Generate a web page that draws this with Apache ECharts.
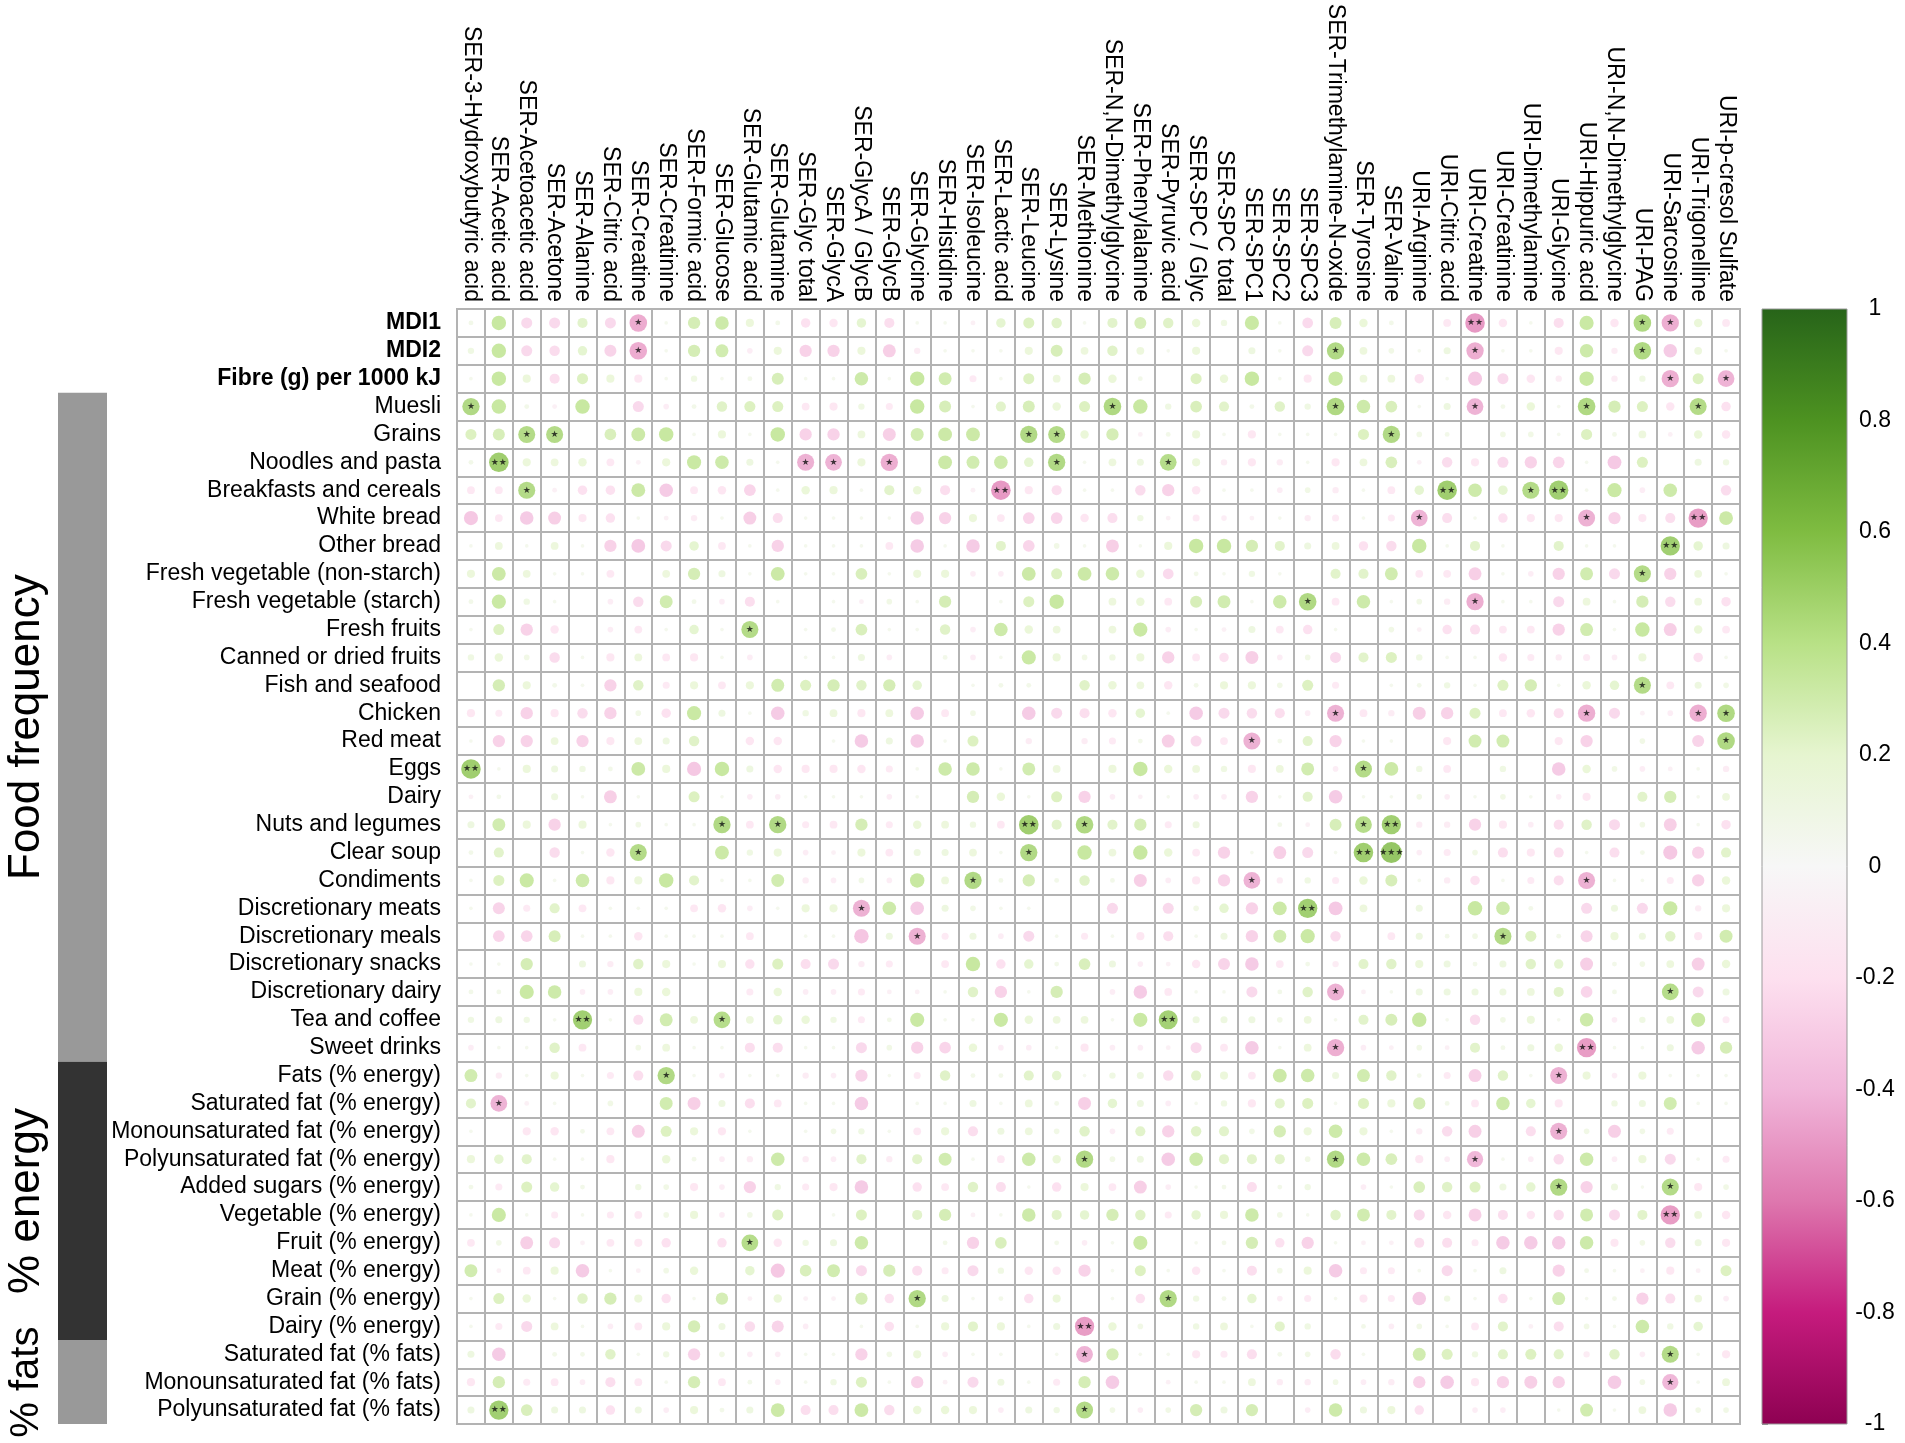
<!DOCTYPE html>
<html>
<head>
<meta charset="utf-8">
<script src="https://cdn.jsdelivr.net/npm/echarts@6/dist/echarts.min.js"></script>
<style>
html, body { margin: 0; padding: 0; background: #fff; }
#main { width: 1905px; height: 1443px; }
</style>
</head>
<body>
<div id="main"></div>
<script>
// columns: serum / urine metabolites
var metabolites = [
    'SER-3-Hydroxybutyric acid', 'SER-Acetic acid', 'SER-Acetoacetic acid', 'SER-Acetone', 'SER-Alanine',
    'SER-Citric acid', 'SER-Creatine', 'SER-Creatinine', 'SER-Formic acid', 'SER-Glucose',
    'SER-Glutamic acid', 'SER-Glutamine', 'SER-Glyc total', 'SER-GlycA', 'SER-GlycA / GlycB',
    'SER-GlycB', 'SER-Glycine', 'SER-Histidine', 'SER-Isoleucine', 'SER-Lactic acid',
    'SER-Leucine', 'SER-Lysine', 'SER-Methionine', 'SER-N,N-Dimethylglycine', 'SER-Phenylalanine',
    'SER-Pyruvic acid', 'SER-SPC / Glyc', 'SER-SPC total', 'SER-SPC1', 'SER-SPC2',
    'SER-SPC3', 'SER-Trimethylamine-N-oxide', 'SER-Tyrosine', 'SER-Valine', 'URI-Arginine',
    'URI-Citric acid', 'URI-Creatine', 'URI-Creatinine', 'URI-Dimethylamine', 'URI-Glycine',
    'URI-Hippuric acid', 'URI-N,N-Dimethylglycine', 'URI-PAG', 'URI-Sarcosine', 'URI-Trigonelline',
    'URI-p-cresol Sulfate'
];

// rows: diet indices, food frequency, % energy, % fats
var foodItems = [
    'MDI1', 'MDI2', 'Fibre (g) per 1000 kJ', 'Muesli', 'Grains', 'Noodles and pasta',
    'Breakfasts and cereals', 'White bread', 'Other bread', 'Fresh vegetable (non-starch)',
    'Fresh vegetable (starch)', 'Fresh fruits', 'Canned or dried fruits', 'Fish and seafood',
    'Chicken', 'Red meat', 'Eggs', 'Dairy', 'Nuts and legumes', 'Clear soup', 'Condiments',
    'Discretionary meats', 'Discretionary meals', 'Discretionary snacks', 'Discretionary dairy',
    'Tea and coffee', 'Sweet drinks', 'Fats (% energy)', 'Saturated fat (% energy)',
    'Monounsaturated fat (% energy)', 'Polyunsaturated fat (% energy)', 'Added sugars (% energy)',
    'Vegetable (% energy)', 'Fruit (% energy)', 'Meat (% energy)', 'Grain (% energy)',
    'Dairy (% energy)', 'Saturated fat (% fats)', 'Monounsaturated fat (% fats)',
    'Polyunsaturated fat (% fats)'
];
var boldRows = ['MDI1', 'MDI2', 'Fibre (g) per 1000 kJ'];

// correlation values, one row per food item, one entry per metabolite
var corrRows = [
    [0.1, 0.39, -0.28, -0.28, 0.25, -0.28, -0.5, 0.07, 0.32, 0.36,  0.19, 0.1, -0.23, -0.2, 0.23, -0.25, 0.07, 0.07, -0.1, 0.23,  0.28, 0.26, 0.07, 0.25, 0.31, 0.26, 0.2, 0.14, 0.38, 0.07,  -0.27, 0.31, 0.2, 0.1, 0, -0.18, -0.57, -0.2, 0.07, -0.25,  0.38, -0.2, 0.5, -0.49, 0.2, -0.18],
    [0.14, 0.39, -0.28, -0.26, 0.23, -0.31, -0.5, 0.07, 0.32, 0.34,  -0.12, 0.19, -0.32, -0.32, 0.19, -0.34, -0.14, 0.07, 0.07, 0.07,  0.19, 0.31, 0.18, 0.26, 0.18, 0.07, 0.19, 0, 0.16, 0.07,  -0.28, 0.49, 0.18, 0.12, 0.07, 0.16, -0.49, 0.07, 0.07, -0.19,  0.36, -0.14, 0.5, -0.36, 0.18, 0.07],
    [0.07, 0.39, 0.19, -0.25, 0.28, 0.19, -0.19, 0.07, 0.14, 0.07,  0.1, 0.31, 0.07, 0.07, 0.36, 0.07, 0.39, 0.34, -0.16, 0.07,  0.28, 0.18, 0.32, 0.2, 0.1, 0, 0.28, 0.2, 0.39, 0.07,  -0.19, 0.39, 0.18, 0.18, -0.23, 0.07, -0.38, -0.28, -0.2, -0.14,  0.39, -0.14, 0.14, -0.49, 0.28, -0.47],
    [0.49, 0.39, 0.1, -0.1, 0.39, 0, -0.28, -0.12, 0.1, 0.26,  0.28, 0.28, -0.18, -0.19, 0.14, -0.16, 0.39, 0.31, 0.07, 0.25,  0.31, 0.2, 0.28, 0.5, 0.39, 0.14, 0.3, 0.25, 0.1, 0.26,  0.14, 0.5, 0.36, 0.3, 0.07, 0.16, -0.47, 0.1, 0.2, 0.07,  0.5, 0.32, 0.28, -0.2, 0.48, -0.23],
    [0.28, 0.31, 0.48, 0.48, 0, 0.3, 0.37, 0.39, 0.07, 0.19,  0.07, 0.39, -0.32, -0.32, 0.18, -0.34, 0.34, 0.37, 0.37, 0,  0.49, 0.48, 0.2, 0.32, -0.1, 0.1, 0.19, 0.07, -0.19, 0.07,  0.07, 0.07, 0.28, 0.49, 0.12, 0.1, 0, 0.12, 0.12, 0.07,  0.28, 0.1, 0.18, -0.1, 0.2, -0.2],
    [0.1, 0.57, 0.19, 0.18, 0.2, -0.18, -0.1, 0.19, 0.38, 0.36,  0.16, 0.07, -0.48, -0.47, 0.19, -0.49, 0, 0.37, 0.34, 0.36,  0.23, 0.49, 0.07, 0.18, 0.16, 0.47, 0.19, -0.14, -0.19, -0.14,  0.07, -0.19, 0.18, 0.3, -0.1, -0.26, -0.19, -0.28, -0.32, -0.3,  0.07, -0.37, 0.28, 0, 0.16, 0.14],
    [-0.18, -0.18, 0.48, -0.1, -0.23, -0.23, 0.37, -0.36, -0.18, -0.2,  -0.3, 0.07, 0.2, 0.19, 0.07, 0.25, 0.2, -0.25, -0.1, -0.57,  -0.19, -0.25, 0.07, 0.07, -0.26, -0.32, -0.2, 0.07, 0.07, -0.12,  0.12, -0.14, 0.07, -0.18, 0.23, 0.57, 0.36, 0.23, 0.48, 0.56,  0.07, 0.38, -0.12, 0.36, 0, -0.26],
    [-0.38, -0.18, -0.36, -0.34, -0.19, -0.23, 0.07, -0.1, -0.14, 0.07,  -0.34, -0.25, 0.07, 0.07, 0.07, 0.07, -0.36, -0.32, 0.19, -0.18,  -0.3, -0.3, -0.2, -0.25, 0.14, -0.1, -0.16, -0.12, -0.1, 0.07,  -0.14, -0.16, 0.07, -0.16, -0.47, -0.25, 0.07, -0.23, -0.19, -0.19,  -0.48, -0.32, -0.19, -0.25, -0.56, 0.37],
    [0.07, 0.18, 0.07, 0.18, 0.07, -0.32, -0.37, -0.28, 0.23, -0.18,  0.07, -0.32, 0.07, 0.07, 0.07, -0.18, -0.36, 0.07, -0.36, 0.25,  -0.3, 0.12, 0.07, -0.34, 0.07, 0.19, 0.39, 0.39, 0.32, 0.25,  0.16, 0.18, -0.23, -0.26, 0.39, 0.07, 0.25, 0.07, 0, 0.25,  0.07, 0.07, 0, 0.56, 0.23, 0.16],
    [0.19, 0.37, 0.18, 0.07, 0.07, -0.18, 0, 0.18, 0.32, 0.16,  0.07, 0.37, 0.07, 0.07, 0.3, 0.07, 0.19, 0.19, -0.12, -0.12,  0.37, 0.28, 0.37, 0.36, 0.2, -0.27, 0.1, 0.07, 0.14, 0.07,  0, 0.25, 0.25, 0.34, -0.18, -0.18, -0.34, 0.07, -0.12, -0.32,  0.34, -0.28, 0.48, -0.32, 0.18, 0.07],
    [0.1, 0.38, 0.14, 0.07, 0, -0.12, -0.26, 0.34, 0.1, -0.12,  -0.25, 0.07, 0, 0.07, -0.1, 0.12, 0.07, 0.32, 0, 0.07,  0.28, 0.39, 0, 0.18, 0.2, -0.18, 0.31, 0.34, 0.07, 0.36,  0.5, -0.18, 0.36, 0.07, 0.12, -0.14, -0.49, 0.07, 0.07, -0.28,  0.18, 0.07, 0.32, -0.26, 0.18, -0.23],
    [0.07, 0.28, -0.32, -0.2, 0, -0.12, -0.18, 0.07, 0.23, 0.07,  0.48, 0, 0.07, 0.1, 0.3, 0.07, 0.07, 0.26, -0.12, 0.36,  0.2, 0.18, 0, 0.18, 0.38, -0.12, 0.07, -0.1, 0.16, -0.18,  -0.23, 0.07, 0, 0.12, -0.1, -0.23, -0.25, -0.18, -0.18, -0.32,  0.34, 0.07, 0.39, -0.34, 0.2, -0.18],
    [0.14, 0.2, 0.12, -0.26, 0.07, -0.19, 0.18, -0.18, -0.19, 0.07,  -0.12, 0, 0.07, 0.07, 0.16, -0.12, 0, 0.1, -0.12, 0.07,  0.38, 0.19, 0.12, 0.14, 0.19, -0.32, -0.18, -0.23, -0.34, -0.12,  0.12, -0.28, 0.25, 0.28, 0.14, 0.07, 0.07, -0.2, -0.16, -0.14,  -0.16, -0.12, 0.19, 0, -0.23, 0.07],
    [0, 0.32, 0.19, 0.1, 0.07, -0.32, 0.26, -0.16, 0.19, -0.18,  0.19, 0.34, 0.28, 0.32, 0.26, 0.32, 0.23, 0, 0.07, 0.1,  0.1, 0, 0.26, 0.2, 0.18, -0.2, 0.1, 0.19, 0.19, 0.12,  0.28, -0.16, 0, 0.07, 0.1, 0.14, 0.07, 0.28, 0.32, 0.07,  0.2, 0.23, 0.48, -0.18, 0.16, 0.12],
    [-0.19, -0.16, -0.32, -0.19, -0.26, -0.32, 0.12, -0.23, 0.38, 0.16,  0.07, -0.36, 0.14, 0.18, -0.19, 0.18, -0.36, -0.18, 0.12, 0,  -0.36, -0.28, -0.25, -0.2, 0.23, 0.07, -0.36, -0.28, -0.26, -0.25,  -0.12, -0.48, -0.18, -0.14, -0.34, -0.32, 0.28, -0.18, -0.2, -0.25,  -0.49, -0.28, -0.1, -0.12, -0.49, 0.5],
    [0.07, -0.32, -0.32, 0.18, -0.32, -0.19, 0.18, 0.16, 0.26, 0,  -0.2, -0.2, 0, 0.07, -0.36, 0.16, -0.36, 0.07, 0.28, 0,  -0.14, 0, -0.14, -0.16, 0.1, -0.34, -0.28, -0.18, -0.48, 0.1,  0.25, -0.32, 0.07, 0.07, 0, -0.19, 0.34, 0.34, 0, -0.19,  -0.32, 0, 0.12, 0, -0.31, 0.5],
    [0.57, 0.07, 0.19, 0.16, 0.14, 0.1, 0.37, 0.19, -0.38, 0.39,  0.16, -0.2, -0.19, -0.19, -0.2, -0.16, 0.07, 0.36, 0.36, 0.07,  0.34, 0.18, 0, 0.19, 0.39, 0.2, 0.18, 0.14, -0.19, 0.18,  0.34, -0.12, 0.48, 0.37, 0.14, -0.18, 0, 0.14, 0, -0.36,  0.2, 0.12, -0.12, -0.1, 0.07, -0.14],
    [-0.1, 0.1, 0, 0.16, 0.07, -0.34, 0.07, 0, 0.28, 0.07,  -0.12, -0.12, 0.07, 0.07, 0.07, -0.12, 0.07, 0, 0.32, 0.2,  0.07, 0.28, -0.32, -0.12, -0.1, 0.07, -0.12, -0.12, -0.32, 0.07,  0.25, -0.36, 0.07, 0.07, 0.12, -0.12, 0.07, 0.12, 0.07, -0.12,  -0.19, 0, 0.25, 0.32, 0.07, 0.18],
    [0.16, 0.34, 0.19, -0.32, 0.19, 0.07, 0.12, 0.07, 0.07, 0.49,  -0.18, 0.49, -0.16, -0.18, 0.32, -0.16, 0.2, 0.18, 0.14, -0.18,  0.57, 0.25, 0.5, 0.25, 0.32, -0.16, 0.16, 0, 0, 0.1,  -0.1, 0.31, 0.47, 0.56, -0.14, -0.14, -0.32, -0.19, -0.12, -0.25,  0.26, -0.28, 0.12, -0.34, 0.07, -0.23],
    [0.1, 0.25, 0, -0.26, 0.07, -0.2, 0.48, 0, 0, 0.37,  0.14, 0.19, -0.12, -0.1, 0.19, -0.18, 0.16, 0.16, 0.18, 0.07,  0.49, 0, 0.39, 0.18, 0.39, 0.2, -0.18, -0.32, 0.07, -0.34,  -0.28, 0.07, 0.57, 0.62, -0.12, -0.16, 0.12, -0.25, -0.19, -0.25,  0.07, -0.25, 0.1, -0.38, -0.32, 0.25],
    [0.07, 0.28, 0.38, 0.07, 0.36, -0.19, 0.19, 0.39, 0.25, 0.07,  0.07, 0.34, -0.14, -0.12, 0.12, -0.12, 0.39, 0.18, 0.49, 0.1,  0.32, 0.1, 0.26, 0.1, -0.34, -0.12, -0.19, -0.32, -0.47, -0.14,  0.14, -0.16, 0.2, 0.31, 0.07, -0.14, -0.23, 0.07, -0.16, -0.25,  -0.48, 0.07, 0.07, -0.16, -0.32, 0.2],
    [0.07, -0.31, -0.16, 0.25, -0.18, 0.07, 0.07, 0.07, -0.18, -0.2,  -0.12, 0.07, 0.19, 0.19, -0.48, 0.36, -0.36, 0.16, 0.12, 0.07,  0.07, 0, 0, -0.28, 0, -0.28, 0.12, 0.23, -0.32, 0.37,  0.56, -0.37, 0.18, 0, 0.16, 0, 0.39, 0.36, 0.1, 0,  -0.28, 0.16, -0.28, 0.38, -0.14, 0.19],
    [0, -0.3, -0.3, 0.31, 0.07, 0.07, -0.2, 0.07, 0.07, 0.07,  -0.18, 0, 0.07, 0.07, -0.39, 0.16, -0.48, -0.16, 0.16, -0.12,  -0.28, 0.07, -0.16, 0.07, -0.19, -0.25, 0.07, 0.16, -0.32, 0.34,  0.38, -0.26, 0, -0.18, 0.16, 0.1, 0.12, 0.48, 0.28, 0.1,  -0.31, 0.19, 0.16, 0.26, -0.19, 0.34],
    [0.07, 0.07, 0.32, 0, 0.16, -0.14, 0.26, 0.19, 0.07, 0.19,  -0.23, 0.28, -0.25, -0.28, -0.14, -0.16, 0, -0.18, 0.39, -0.23,  0.23, 0.1, 0.3, 0.16, -0.12, -0.1, -0.2, -0.31, -0.36, -0.18,  0.1, -0.14, 0.25, 0.26, 0.19, 0.16, 0.1, 0.16, 0.26, 0.23,  -0.34, 0.1, 0.12, 0.18, -0.34, 0.2],
    [0.1, 0.1, 0.38, 0.36, -0.12, -0.12, 0.19, 0.2, 0, 0,  -0.16, 0.2, -0.12, -0.12, -0.16, -0.1, -0.1, 0.07, 0.26, -0.32,  0.07, 0.32, 0, -0.12, -0.36, -0.18, 0.07, 0.07, -0.28, 0.1,  0.26, -0.48, -0.1, 0.07, 0.16, 0.16, 0.16, 0.16, 0.18, 0.25,  -0.3, 0.1, 0, 0.47, -0.28, 0.16],
    [0.14, 0.16, 0.14, 0.07, 0.56, 0.07, -0.25, 0.34, 0.18, 0.47,  0.18, 0.23, 0.2, 0.14, -0.16, 0.1, 0.38, 0.07, 0.07, 0.38,  0.2, 0.18, 0.18, 0.07, 0.38, 0.55, 0.16, 0.16, 0.16, 0.12,  0.18, 0.07, 0.25, 0.31, 0.39, 0.07, -0.26, 0.12, 0.19, 0.07,  0.36, -0.12, 0.14, 0.18, 0.38, -0.16],
    [-0.12, 0.07, 0.07, 0.26, -0.18, 0, 0.12, 0.18, 0.07, 0.07,  -0.25, -0.25, 0.07, 0.07, -0.28, 0.12, -0.32, -0.3, 0.2, -0.12,  -0.12, 0.07, -0.19, -0.12, -0.12, -0.1, -0.28, -0.18, -0.36, 0.07,  0.18, -0.49, -0.12, -0.1, 0.12, -0.1, 0.25, 0.1, 0.16, 0.2,  -0.56, 0.07, 0.07, 0.16, -0.36, 0.32],
    [0.34, -0.14, 0.07, 0.19, 0.07, -0.16, -0.25, 0.49, 0.07, -0.12,  0.07, 0.07, -0.14, -0.12, -0.32, 0.07, -0.16, 0.26, 0.1, 0.1,  0.25, 0.23, 0.07, 0.14, 0.16, -0.26, 0.25, 0.19, -0.18, 0.37,  0.36, 0.16, 0.34, 0.26, 0.1, -0.16, -0.34, 0.26, 0.07, -0.48,  0.19, -0.12, 0.19, 0.07, 0.07, 0.07],
    [0.25, -0.47, -0.1, 0.07, 0, 0.12, 0, 0.34, -0.34, 0.16,  -0.25, -0.18, 0.07, 0.07, -0.36, 0, 0.07, 0.07, 0.16, 0.07,  0.18, 0.1, -0.34, 0.23, 0.16, -0.12, 0.07, 0.14, -0.19, 0.25,  0.28, 0.07, 0.28, 0.19, 0.32, 0.1, -0.18, 0.36, 0.23, -0.19,  0, 0.14, 0.16, 0.34, 0.07, 0.07],
    [0.07, 0, -0.19, -0.2, 0.1, -0.18, -0.34, 0.28, 0.19, -0.19,  0.07, 0, 0.07, 0.12, 0.14, 0.07, -0.18, 0.19, -0.25, 0.16,  0.18, 0.12, 0.26, -0.12, 0.25, -0.32, 0.26, 0.25, 0.12, 0.32,  0.19, 0.36, 0.19, 0.07, -0.14, -0.26, -0.34, 0, -0.25, -0.48,  0.12, -0.34, 0.12, -0.16, 0, 0],
    [0.19, 0.23, 0.25, 0.07, 0.07, -0.19, 0, 0.2, 0.1, -0.12,  -0.14, 0.36, -0.14, -0.12, 0.25, -0.14, 0.25, 0.34, 0.07, -0.18,  0.36, 0.2, 0.49, 0.12, 0.16, -0.36, 0.36, 0.25, 0.25, 0.25,  0.12, 0.49, 0.36, 0.3, -0.19, -0.12, -0.45, 0.07, -0.12, -0.26,  0.36, -0.12, 0.19, -0.28, 0.07, -0.16],
    [0.1, -0.16, 0.28, 0.23, 0.1, 0, 0.14, 0.12, -0.19, -0.12,  -0.32, 0.14, -0.16, -0.19, -0.36, 0, -0.23, -0.18, 0.26, -0.25,  0.07, -0.23, 0.19, -0.18, -0.34, -0.12, 0.07, 0.1, -0.25, 0.1,  0.14, 0, -0.12, 0.07, 0.3, 0.26, 0.28, 0.16, 0.23, 0.49,  -0.32, 0.16, 0.07, 0.48, -0.19, 0.12],
    [0.07, 0.38, 0.07, -0.16, 0.07, -0.16, -0.18, 0.12, 0.19, -0.12,  0.12, 0.28, 0, 0.07, 0.28, 0, 0.25, 0.32, -0.1, 0.07,  0.36, 0.25, 0.23, 0.32, 0.26, -0.16, 0.23, 0.19, 0.36, 0.12,  0.07, 0.26, 0.34, 0.25, -0.28, -0.2, -0.34, -0.25, -0.2, -0.26,  0.34, -0.28, 0.25, -0.56, 0.18, -0.2],
    [-0.18, 0.12, -0.34, -0.28, -0.1, -0.18, -0.19, -0.23, 0, -0.23,  0.47, -0.2, 0.14, 0.16, 0.36, 0, 0, 0.1, -0.32, 0.3,  0, 0.1, -0.12, 0.07, 0.38, 0, 0.07, 0.1, 0.32, -0.23,  -0.32, 0.07, -0.1, -0.1, -0.25, -0.25, -0.16, -0.36, -0.36, -0.36,  0.36, -0.19, 0.12, -0.26, 0.16, -0.19],
    [0.34, -0.1, -0.18, 0.19, -0.36, 0.07, -0.1, 0.12, 0.2, 0,  0.23, -0.38, 0.3, 0.34, -0.28, 0.32, -0.25, -0.16, -0.28, 0.14,  -0.2, -0.2, -0.32, 0.07, 0.28, 0.07, -0.2, 0.07, -0.25, 0.12,  0.19, -0.36, -0.16, -0.16, 0.07, -0.28, 0.07, 0.16, 0, -0.32,  0.1, 0.07, -0.1, -0.19, -0.1, 0.28],
    [0.07, 0.28, 0.2, 0.07, 0.26, 0.32, 0.19, -0.23, 0.07, 0.32,  -0.1, 0.2, -0.1, -0.1, 0.32, -0.23, 0.49, 0.16, 0.07, 0.1,  -0.23, 0.19, 0, 0.07, -0.23, 0.49, 0.14, 0.1, 0.23, -0.12,  -0.16, 0.07, -0.19, -0.16, -0.36, 0.14, 0.07, -0.23, 0.07, 0.34,  0.07, 0.1, -0.32, -0.25, 0.18, -0.12],
    [0.07, -0.16, -0.28, 0.18, 0.07, -0.12, -0.18, 0.19, 0.32, 0.16,  -0.26, -0.31, -0.12, 0, 0.07, -0.23, 0.07, 0.19, 0.25, 0.19,  0.07, 0.16, -0.56, 0.2, 0.12, 0, 0.14, 0.18, 0.07, 0.25,  0.14, 0, 0.1, -0.12, 0.12, 0.07, -0.18, 0.25, -0.1, -0.25,  0.12, 0.07, 0.36, 0.14, 0.23, 0],
    [0.16, -0.36, 0, 0.1, 0.1, 0.26, 0.07, 0.14, -0.32, 0.12,  -0.12, -0.12, 0.07, 0.07, -0.32, 0.12, 0.19, -0.12, 0.07, 0.07,  0, 0.07, -0.47, 0.32, 0.07, 0.07, -0.19, -0.16, -0.25, 0.1,  0.12, -0.26, 0.07, 0, 0.34, 0.28, 0.14, 0.25, 0.28, 0.25,  -0.14, 0.26, -0.12, 0.48, 0.07, -0.19],
    [-0.19, 0.32, -0.16, -0.18, -0.12, -0.25, -0.18, 0.07, 0.32, -0.18,  0.1, -0.12, 0.07, 0.14, 0.28, 0.07, -0.32, -0.1, -0.28, 0.16,  0.07, -0.16, 0.32, -0.36, 0, -0.1, 0.07, 0.07, 0.18, -0.14,  -0.14, 0.12, -0.12, -0.14, -0.32, -0.36, -0.19, -0.32, -0.34, -0.32,  0, -0.36, 0.12, -0.45, 0.07, 0.18],
    [0.16, 0.56, 0.3, 0.16, 0.16, -0.23, 0.16, -0.12, 0.19, 0.1,  0.16, 0.37, -0.25, -0.25, 0.37, -0.26, 0.2, 0.2, 0.19, -0.12,  0.16, 0.14, 0.48, 0.12, -0.12, 0.12, 0.32, 0.16, 0.32, 0,  -0.12, 0.36, 0.16, 0.19, -0.23, 0, -0.12, -0.12, 0, 0.07,  0.34, 0.07, 0.18, -0.36, 0.12, 0.12]
];

// significance stars: [row number, column number, number of stars]
var sigMarks = [
    [1, 7, 1], [1, 37, 2], [1, 43, 1], [1, 44, 1],
    [2, 7, 1], [2, 32, 1], [2, 37, 1], [2, 43, 1],
    [3, 44, 1], [3, 46, 1],
    [4, 1, 1], [4, 24, 1], [4, 32, 1], [4, 37, 1], [4, 41, 1], [4, 45, 1],
    [5, 3, 1], [5, 4, 1], [5, 21, 1], [5, 22, 1], [5, 34, 1],
    [6, 2, 2], [6, 13, 1], [6, 14, 1], [6, 16, 1], [6, 22, 1], [6, 26, 1],
    [7, 3, 1], [7, 20, 2], [7, 36, 2], [7, 39, 1], [7, 40, 2],
    [8, 35, 1], [8, 41, 1], [8, 45, 2],
    [9, 44, 2],
    [10, 43, 1],
    [11, 31, 1], [11, 37, 1],
    [12, 11, 1],
    [14, 43, 1],
    [15, 32, 1], [15, 41, 1], [15, 45, 1], [15, 46, 1],
    [16, 29, 1], [16, 46, 1],
    [17, 1, 2], [17, 33, 1],
    [19, 10, 1], [19, 12, 1], [19, 21, 2], [19, 23, 1], [19, 33, 1], [19, 34, 2],
    [20, 7, 1], [20, 21, 1], [20, 33, 2], [20, 34, 3],
    [21, 19, 1], [21, 29, 1], [21, 41, 1],
    [22, 15, 1], [22, 31, 2],
    [23, 17, 1], [23, 38, 1],
    [25, 32, 1], [25, 44, 1],
    [26, 5, 2], [26, 10, 1], [26, 26, 2],
    [27, 32, 1], [27, 41, 2],
    [28, 8, 1], [28, 40, 1],
    [29, 2, 1],
    [30, 40, 1],
    [31, 23, 1], [31, 32, 1], [31, 37, 1],
    [32, 40, 1], [32, 44, 1],
    [33, 44, 2],
    [34, 11, 1],
    [36, 17, 1], [36, 26, 1],
    [37, 23, 2],
    [38, 23, 1], [38, 44, 1],
    [39, 44, 1],
    [40, 2, 2], [40, 23, 1]
];

// row groups shown as side bars
var groupNames = ['Food frequency', '% energy', '% fats'];
var groupFirst = ['Muesli', 'Fats (% energy)', 'Saturated fat (% fats)'];
var groupLast = ['Sweet drinks', 'Dairy (% energy)', 'Polyunsaturated fat (% fats)'];

// colour scale limits
var scaleMin = -1;
var scaleMax = 1;
var scaleStep = 0.2;

// ---- styles ----
var FONT = "'Liberation Sans', Arial, Helvetica, sans-serif";
var piyg = ['#8E0152', '#C51B7D', '#DE77AE', '#F1B6DA', '#FDE0EF', '#F7F7F7',
            '#E6F5D0', '#B8E186', '#7FBC41', '#4D9221', '#276419'];
var groupFill = ['#999999', '#333333', '#999999'];
var groupFont = [44, 44, 40];
var gridLineColor = '#b3b3b3';

var plotLeft = 457, plotTop = 309, plotW = 1283, plotH = 1115;
var cell = plotW / metabolites.length;

// build scatter data
var sigLookup = {};
sigMarks.forEach(function (s) {
    sigLookup[(s[0] - 1) + '_' + (s[1] - 1)] = s[2];
});
var dotData = [];
for (var r = 0; r < corrRows.length; r++) {
    for (var c = 0; c < corrRows[r].length; c++) {
        dotData.push([c, r, corrRows[r][c], sigLookup[r + '_' + c] || 0]);
    }
}

var groupData = groupNames.map(function (name, i) {
    return [0, foodItems.indexOf(groupFirst[i]), foodItems.indexOf(groupLast[i]), i];
});

var gradStops = piyg.slice().reverse().map(function (col, i, arr) {
    return { offset: i / (arr.length - 1), color: col };
});

var myChart = echarts.init(document.getElementById('main'));

var option = {
    backgroundColor: '#ffffff',
    animation: false,
    textStyle: { fontFamily: FONT },
    grid: [
        { left: plotLeft, top: plotTop, width: plotW, height: plotH,
          show: true, borderColor: gridLineColor, borderWidth: 2, backgroundColor: '#fff' },
        { left: 1762, top: plotTop, width: 85, height: plotH },
        { left: 58, top: plotTop, width: 49, height: plotH }
    ],
    xAxis: [
        {
            gridIndex: 0, type: 'category', data: metabolites, position: 'top',
            axisLine: { show: false }, axisTick: { show: false },
            axisLabel: { interval: 0, rotate: 90, fontSize: 23, color: '#000', margin: 7, fontFamily: FONT },
            splitLine: { show: true, interval: 0, lineStyle: { color: gridLineColor, width: 2 } }
        },
        { gridIndex: 1, type: 'value', min: 0, max: 1, show: false },
        { gridIndex: 2, type: 'value', min: 0, max: 1, show: false }
    ],
    yAxis: [
        {
            gridIndex: 0, type: 'category', data: foodItems, inverse: true,
            axisLine: { show: false }, axisTick: { show: false },
            axisLabel: {
                interval: 0, fontSize: 23, color: '#000', margin: 16, fontFamily: FONT,
                formatter: function (v) {
                    return boldRows.indexOf(v) >= 0 ? '{b|' + v + '}' : v;
                },
                rich: { b: { fontWeight: 'bold', fontSize: 23, color: '#000', fontFamily: FONT } }
            },
            splitLine: { show: true, interval: 0, lineStyle: { color: gridLineColor, width: 2 } }
        },
        {
            gridIndex: 1, type: 'value', min: scaleMin, max: scaleMax, interval: scaleStep,
            position: 'right',
            axisLine: { show: false },
            axisTick: { show: true, length: 6, lineStyle: { color: '#888' } },
            splitLine: { show: false },
            axisLabel: { fontSize: 23, color: '#000', margin: 28, align: 'center', fontFamily: FONT }
        },
        { gridIndex: 2, type: 'category', data: foodItems, inverse: true, show: false }
    ],
    visualMap: {
        type: 'continuous', show: false, min: scaleMin, max: scaleMax,
        dimension: 2, seriesIndex: 0,
        inRange: { color: piyg }
    },
    series: [
        {
            type: 'scatter', xAxisIndex: 0, yAxisIndex: 0,
            data: dotData,
            symbol: 'circle',
            // circle diameter grows a little slower than |r|
            symbolSize: function (d) { return 1.1 * Math.pow(Math.abs(d[2]), 0.8) * cell; },
            label: {
                show: true, position: 'inside', color: '#111', fontSize: 9,
                fontFamily: "'DejaVu Sans', sans-serif",
                formatter: function (p) {
                    var n = p.data[3];
                    return n ? new Array(n + 1).join('\u2605') : '';
                }
            },
            emphasis: { disabled: true }
        },
        {
            // colour legend bar
            type: 'custom', xAxisIndex: 1, yAxisIndex: 1,
            data: [[0, 1, scaleMax, scaleMin]],
            encode: { x: [0, 1], y: [2, 3] },
            renderItem: function (params, api) {
                var p1 = api.coord([api.value(0), api.value(2)]);
                var p2 = api.coord([api.value(1), api.value(3)]);
                return {
                    type: 'rect',
                    shape: { x: p1[0], y: p1[1], width: p2[0] - p1[0], height: p2[1] - p1[1] },
                    style: {
                        fill: new echarts.graphic.LinearGradient(0, 0, 0, 1, gradStops),
                        stroke: '#999', lineWidth: 1
                    }
                };
            }
        },
        {
            // row group bars and titles
            type: 'custom', xAxisIndex: 2, yAxisIndex: 2,
            data: groupData,
            encode: { x: 0, y: 1 },
            renderItem: function (params, api) {
                var band = api.size([0, 1])[1];
                var top = api.coord([0, api.value(1)])[1] - band / 2;
                var bottom = api.coord([0, api.value(2)])[1] + band / 2;
                var gi = api.value(3);
                var cs = params.coordSys;
                return {
                    type: 'group',
                    children: [
                        {
                            type: 'rect',
                            shape: { x: cs.x, y: top, width: cs.width, height: bottom - top },
                            style: { fill: groupFill[gi] }
                        },
                        {
                            type: 'text',
                            x: cs.x - 31, y: (top + bottom) / 2,
                            rotation: Math.PI / 2,
                            style: {
                                text: groupNames[gi], fill: '#000',
                                font: groupFont[gi] + 'px ' + FONT,
                                align: 'center', verticalAlign: 'middle'
                            }
                        }
                    ]
                };
            }
        }
    ]
};

myChart.setOption(option);
</script>
</body>
</html>
